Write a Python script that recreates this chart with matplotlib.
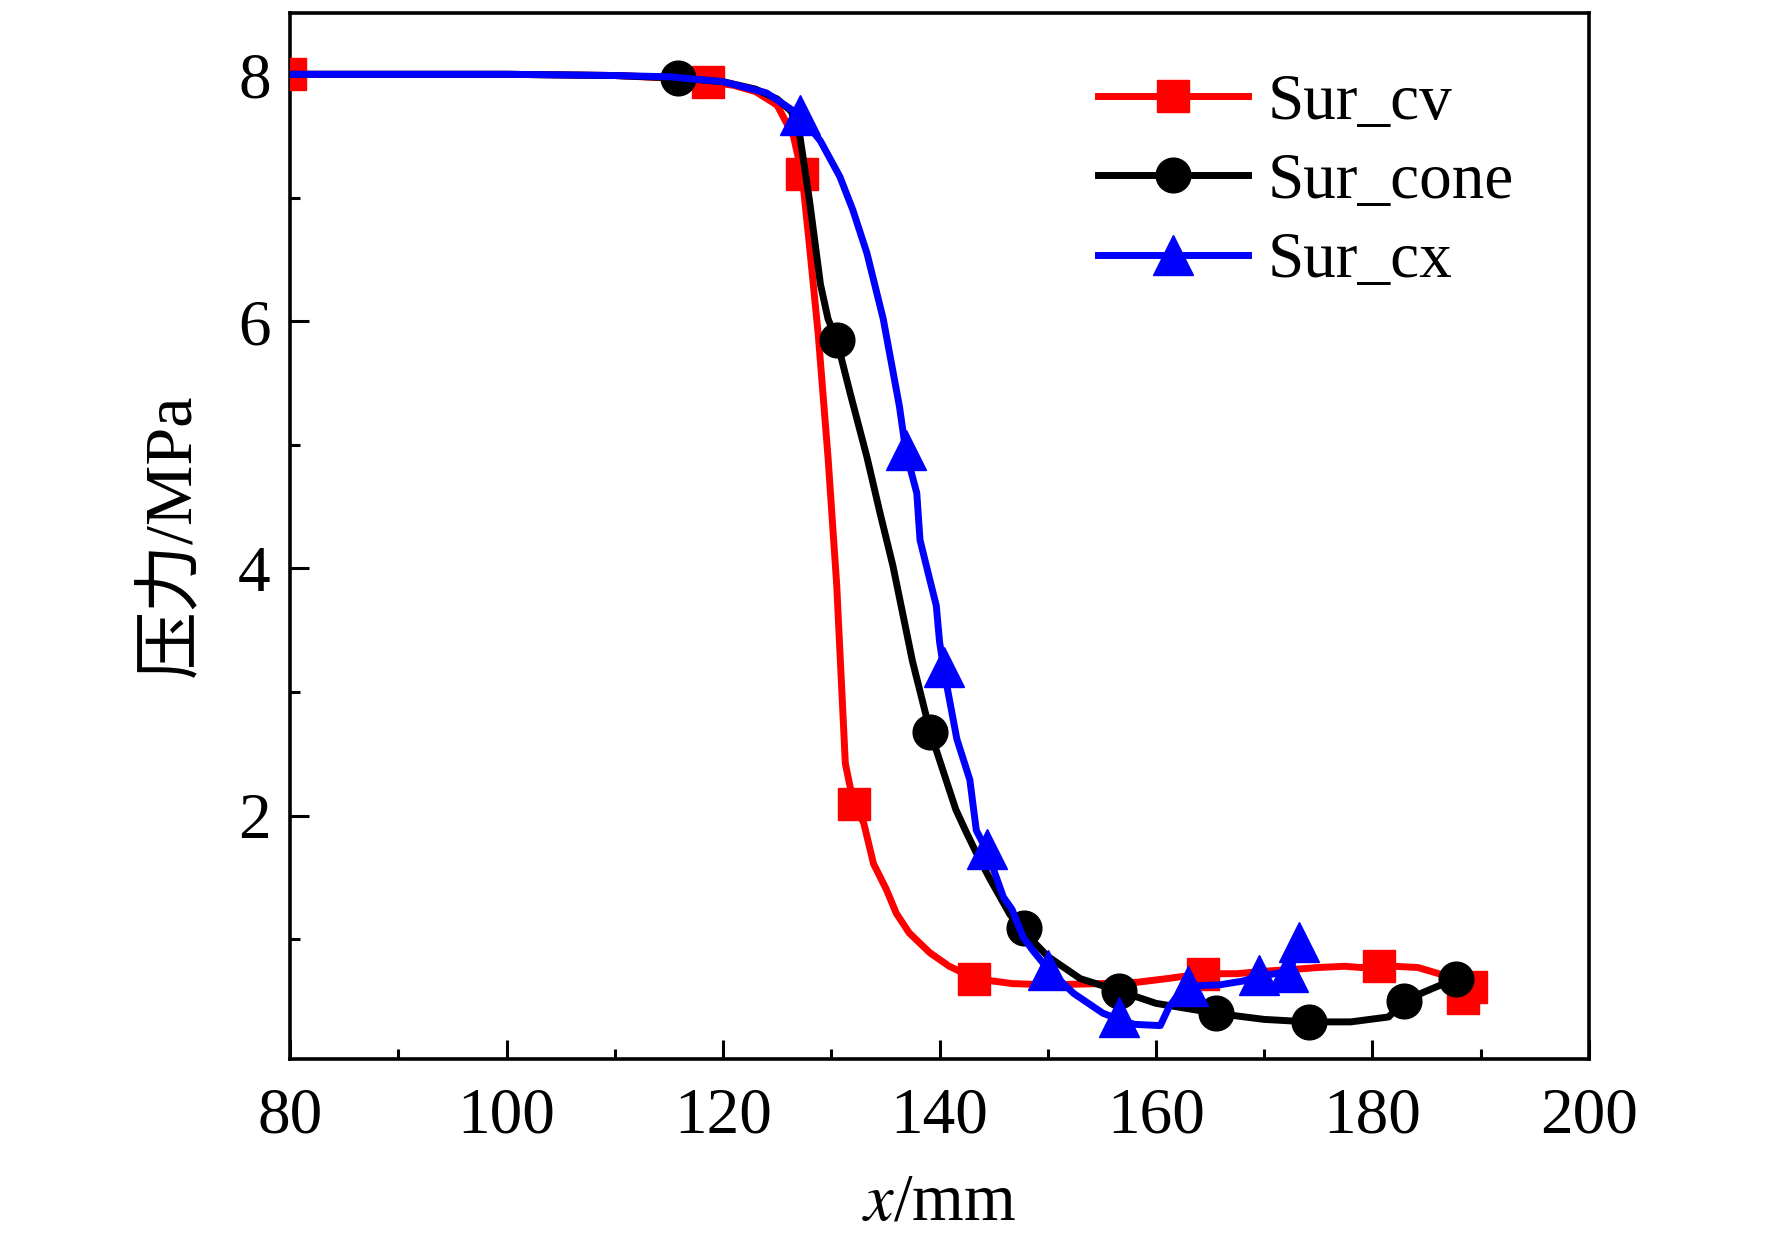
import matplotlib
matplotlib.use("Agg")
import matplotlib.pyplot as plt
from matplotlib.ticker import MultipleLocator

plt.rcParams['font.family'] = ['Liberation Serif', 'Noto Sans CJK SC', 'DejaVu Sans']
plt.rcParams['mathtext.fontset'] = 'stix'

# ---- data ----
cv_x = [80, 100, 110, 115, 118.6, 121, 123, 125, 126.5, 127.3, 128.0, 128.8, 129.7, 130.5,
        131.3, 131.7, 132.1, 133.0, 133.9, 135.1, 136.0, 137.2, 139.1, 140.9, 143.3, 146.7, 150,
        155, 158.2, 161, 164.3, 167.5, 170, 173.5, 175, 177.4, 179, 180.6, 182, 184.2, 186.9,
        188.0, 188.5, 189.1]
cv_y = [8.0, 8.0, 7.99, 7.97, 7.94, 7.91, 7.86, 7.75, 7.5, 7.19, 6.6, 5.89, 4.9, 3.87,
        2.42, 2.25, 2.09, 1.94, 1.61, 1.40, 1.21, 1.05, 0.89, 0.78, 0.68, 0.64, 0.63,
        0.64, 0.65, 0.68, 0.72, 0.72, 0.74, 0.76, 0.77, 0.78, 0.77, 0.78, 0.78, 0.77, 0.70,
        0.65, 0.52, 0.60]
cv_mx = [80.0, 118.6, 127.3, 132.1, 143.2, 164.3, 180.6, 188.4, 189.1]
cv_my = [8.0, 7.94, 7.19, 2.09, 0.68, 0.72, 0.78, 0.52, 0.61]

cone_x = [80, 100, 110, 115.8, 120, 123, 125, 126.3, 127.1, 128.0, 129.0, 129.7, 130.5, 131.8,
          133.3, 134.5, 135.7, 137.5, 139.1, 140.6, 141.5, 142.5, 143.5, 144.7, 146.5, 147.8, 150,
          153, 156.6, 160, 165.5, 170, 174.1, 178, 181.5, 182.9, 185, 187.7]
cone_y = [8.0, 8.0, 7.99, 7.97, 7.94, 7.88, 7.8, 7.7, 7.5, 6.97, 6.3, 6.02, 5.85, 5.4,
          4.9, 4.45, 4.02, 3.25, 2.69, 2.29, 2.05, 1.86, 1.68, 1.48, 1.2, 1.06, 0.86,
          0.68, 0.58, 0.48, 0.40, 0.35, 0.33, 0.33, 0.37, 0.50, 0.58, 0.68]
cone_mx = [115.8, 130.5, 139.1, 147.8, 156.6, 165.5, 174.1, 182.9, 187.7]
cone_my = [7.97, 5.85, 2.68, 1.09, 0.58, 0.40, 0.33, 0.50, 0.68]

cx_x = [80, 100, 110, 115, 120, 124, 127.1, 129, 130.8, 132.0, 133.3, 134.8, 136.3, 136.9, 137.9,
        138.2, 139.1, 139.7, 140.0, 140.4, 141.6, 142.8, 143.4, 144.4, 145.9, 146.7, 147.7,
        148.6, 150.0, 152.4, 155.1, 156.6, 158, 160.4, 161.2, 162.4, 163.0, 165.9, 168,
        169.5, 171, 172.4, 173.2]
cx_y = [8.0, 8.0, 7.99, 7.98, 7.94, 7.85, 7.67, 7.46, 7.17, 6.9, 6.55, 6.02, 5.31, 4.94, 4.61,
        4.23, 3.91, 3.7, 3.41, 3.18, 2.62, 2.29, 1.88, 1.71, 1.34, 1.24, 1.02,
        0.91, 0.76, 0.56, 0.40, 0.35, 0.31, 0.30, 0.45, 0.59, 0.62, 0.63, 0.66,
        0.70, 0.72, 0.74, 0.98]
cx_mx = [127.1, 136.9, 140.4, 144.4, 150.0, 156.6, 163.0, 169.5, 172.2, 173.2]
cx_my = [7.67, 4.96, 3.20, 1.73, 0.75, 0.37, 0.62, 0.71, 0.73, 0.98]

labels = ['Sur_cv', 'Sur_cone', 'Sur_cx']
xticks = [80, 100, 120, 140, 160, 180, 200]
yticks = [2, 4, 6, 8]

# ---- figure ----
fig = plt.figure(figsize=(17.72, 12.52), dpi=100)
ax = fig.add_axes([0.1637, 0.1542, 0.8967 - 0.1637, 0.990 - 0.1542])

lw = 5.0
l1, = ax.plot(cv_x, cv_y, color='#ff0000', lw=lw, zorder=3, solid_joinstyle='round')
m1, = ax.plot(cv_mx, cv_my, ls='none', marker='s', ms=23, color='#ff0000', zorder=3)
l2, = ax.plot(cone_x, cone_y, color='black', lw=lw, zorder=4, solid_joinstyle='round')
m2, = ax.plot(cone_mx, cone_my, ls='none', marker='o', ms=25, color='black', zorder=4)
l3, = ax.plot(cx_x, cx_y, color='#0000ff', lw=lw, zorder=5, solid_joinstyle='round')
m3, = ax.plot(cx_mx, cx_my, ls='none', marker='^', ms=29, color='#0000ff', zorder=5)

ax.set_xlim(80, 200)
ax.set_ylim(0.03, 8.5)
ax.set_xticks(xticks)
ax.set_yticks(yticks)
ax.xaxis.set_minor_locator(MultipleLocator(10))
ax.yaxis.set_minor_locator(MultipleLocator(1))
ax.tick_params(which='both', direction='in', top=False, right=False, width=2.2,
               labelsize=47)
ax.tick_params(which='major', length=14)
ax.tick_params(which='minor', length=7)
ax.tick_params(axis='x', which='major', pad=20)
ax.tick_params(axis='y', which='major', pad=14)
for s in ax.spines.values():
    s.set_linewidth(2.6)

ax.set_xlabel('$x$/mm', fontsize=48, labelpad=19)
ax.set_ylabel('压力/MPa', fontsize=49)
ax.yaxis.set_label_coords(-0.066, 0.5)

ax.legend([(l1, m1), (l2, m2), (l3, m3)], labels, loc='upper left',
          bbox_to_anchor=(0.622, 0.942), frameon=False, fontsize=47,
          handlelength=2.3, handletextpad=0.3, labelspacing=0.3,
          borderpad=0, borderaxespad=0, numpoints=1)

fig.savefig('out.png', dpi=100)
